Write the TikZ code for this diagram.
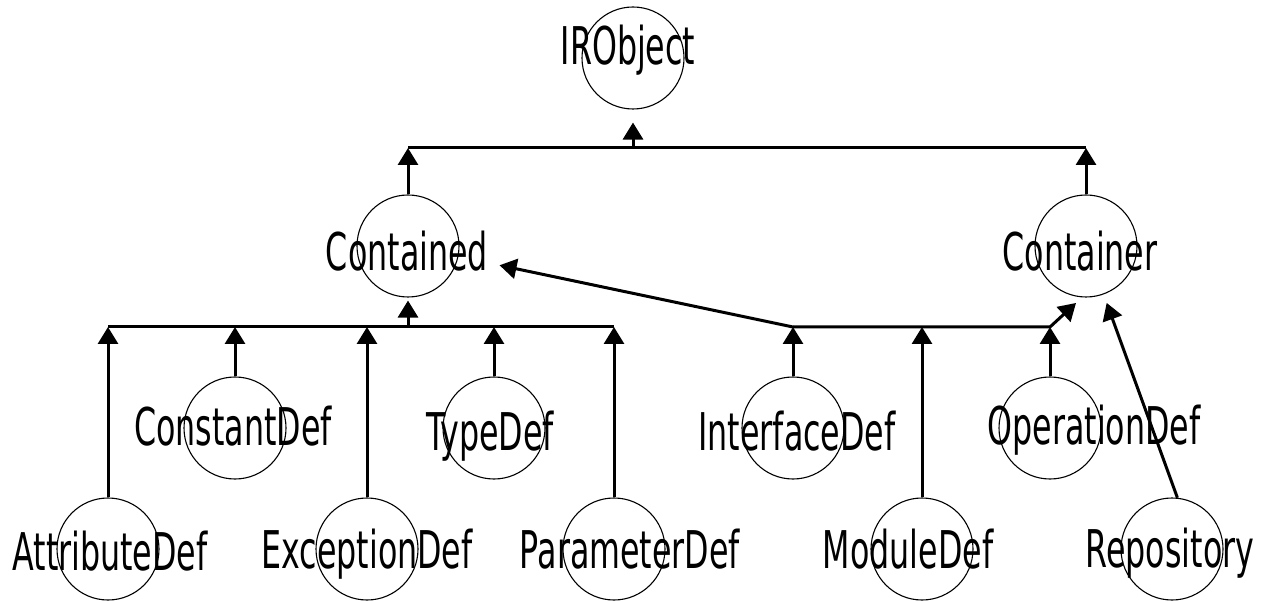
\documentclass[tikz,border=0pt]{standalone}
\usepackage{fontspec}
\newfontfamily\classfont{DejaVu Sans}[FakeStretch=0.61]
\usetikzlibrary{calc,positioning,arrows.meta}
\tikzset{
    >={Triangle[width=20pt,length=17pt]},
    classcircle/.style={
        circle,
        draw=black, line width=1.1pt,
        minimum size=102pt,
        inner sep=0pt
    },
    classname/.style={
        anchor=base,
        inner sep=0pt,
        font=\classfont\fontsize{52}{60}\selectfont
    },
    inherit/.style={draw, line width=3pt, ->},
    bar/.style={draw, line width=3pt}
}

\begin{document}
\begin{tikzpicture}[x=1pt, y=-1pt]
    \clip (0,0) rectangle (1266,601);

    % the circles
    \node[classcircle] (irobj) at (633,58) {};
    \node[classcircle] (contained) at (408,246) {};
    \node[classcircle] (container) at (1086,246) {};
    \node[classcircle] (constantdef) at (235,428) {};
    \node[classcircle] (typedef) at (494,428) {};
    \node[classcircle] (interfacedef) at (793,428) {};
    \node[classcircle] (operationdef) at (1050,428) {};
    \node[classcircle] (attributedef) at (108,549) {};
    \node[classcircle] (exceptiondef) at (367,549) {};
    \node[classcircle] (parameterdef) at (614,549) {};
    \node[classcircle] (moduledef) at (922,549) {};
    \node[classcircle] (repository) at (1172,549) {};

    % the names
    \node[classname] (irobj text) at (628,65) {IRObject};
    \node[classname] (contained text) at (407,271) {Contained};
    \node[classname] (container text) at (1080,271) {Container};
    \node[classname] (constantdef text) at (233,445) {ConstantDef};
    \node[classname] (typedef text) at (490,450) {TypeDef};
    \node[classname] (interfacedef text) at (797,450) {InterfaceDef};
    \node[classname] (operationdef text) at (1094,444) {OperationDef};
    \node[classname] (attributedef text) at (110,570) {AttributeDef};
    \node[classname] (exceptiondef text) at (367,568) {ExceptionDef};
    \node[classname] (parameterdef text) at (630,568) {ParameterDef};
    \node[classname] (moduledef text) at (908,568) {ModuleDef};
    \node[classname] (repository text) at (1170,567) {Repository};

    \coordinate (top join) at (633,148);
    \coordinate (left join) at (408,327);
    \coordinate (right join) at (793,327);
    \coordinate (container foot) at (1076,303);

    % top level
    \draw[bar] (contained |- top join) -- (container |- top join);
    \draw[inherit, shorten >=13pt] (top join) -- (irobj);
    \draw[inherit] (contained) -- (contained |- top join);
    \draw[inherit] (container) -- (container |- top join);

    % contained group
    \draw[bar] (attributedef |- left join) -- (parameterdef |- left join);
    \draw[inherit, shorten >=3pt] (left join) -- (contained);
    \foreach \c in {attributedef,constantdef,exceptiondef,typedef,parameterdef}
        \draw[inherit] (\c) -- (\c |- left join);

    % container group
    \foreach \c in {interfacedef,moduledef,operationdef}
        \draw[inherit] (\c) -- (\c |- right join);
    \draw[inherit] (right join) -- (operationdef |- right join) -- (container foot);
    \draw[inherit, shorten >=42pt] (right join) -- (contained);
    \draw[inherit, shorten >=9pt] (repository.84) -- (container);
\end{tikzpicture}
\end{document}
